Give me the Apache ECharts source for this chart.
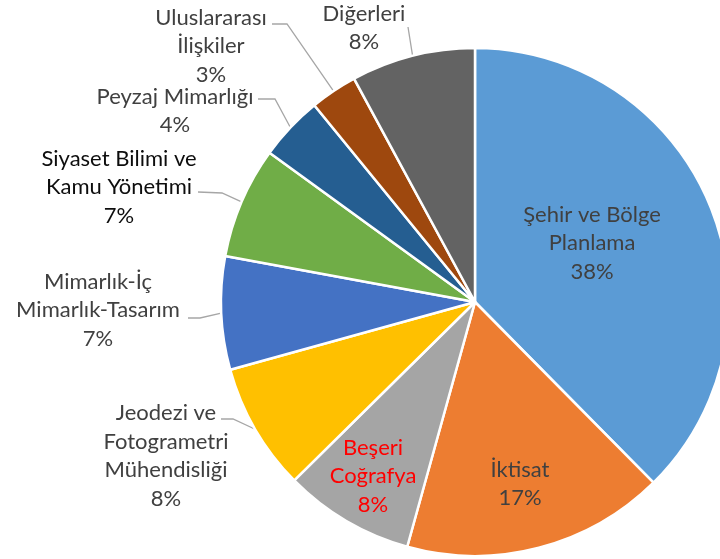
<!DOCTYPE html>
<html><head><meta charset="utf-8">
<script src="https://cdn.jsdelivr.net/npm/echarts@6/dist/echarts.min.js"></script>
<style>html,body{margin:0;padding:0;background:#fff}#c{width:720px;height:559px}</style>
</head><body><div id="c"></div>
<script>
// Data (percent of total)
const categories = [
  'Şehir ve Bölge\nPlanlama',
  'İktisat',
  'Beşeri\nCoğrafya',
  'Jeodezi ve\nFotogrametri\nMühendisliği',
  'Mimarlık-İç\nMimarlık-Tasarım',
  'Siyaset Bilimi ve\nKamu Yönetimi',
  'Peyzaj Mimarlığı',
  'Uluslararası\nİlişkiler',
  'Diğerleri'
];
const values = [37.6, 16.7, 8.3, 8.1, 7.2, 7.1, 4.1, 3.0, 7.9];

// Styles
const sliceColors = ['#5B9BD5', '#ED7D31', '#A5A5A5', '#FFC000', '#4472C4', '#70AD47', '#255E91', '#9E480E', '#636363'];
const textColors = ['#404040', '#404040', '#FF0000', '#404040', '#404040', '#0D0D0D', '#404040', '#404040', '#404040'];
const insideLabel = [true, true, true, false, false, false, false, false, false];

// Label placement: block centre (x,y), attach point on label (ax,ay), turn point (tx,ty)
const labelPlace = [
  { x: 592, y: 243 },
  { x: 520, y: 484 },
  { x: 373, y: 476 },
  { x: 166, y: 456, ax: 221, ay: 419, tx: 233, ty: 419 },
  { x: 98,  y: 310, ax: 188, ay: 318, tx: 200, ty: 318 },
  { x: 119, y: 187, ax: 198, ay: 192, tx: 222, ty: 193 },
  { x: 175, y: 111, ax: 258, ay: 99,  tx: 275, ty: 99 },
  { x: 211, y: 46,  ax: 272, ay: 24,  tx: 287, ty: 24 },
  { x: 364, y: 28,  ax: 408, ay: 27,  tx: 408, ty: 27 }
];

const chart = echarts.init(document.getElementById('c'), null, { renderer: 'canvas' });
const data = categories.map((name, i) => ({
  name: name,
  value: values[i],
  itemStyle: { color: sliceColors[i] },
  label: {
    position: insideLabel[i] ? 'inside' : 'outside',
    color: textColors[i]
  },
  labelLine: { show: !insideLabel[i] }
}));

chart.setOption({
  animation: false,
  backgroundColor: '#ffffff',
  series: [{
    type: 'pie',
    center: [475, 302],
    radius: 254,
    startAngle: 90,
    clockwise: true,
    avoidLabelOverlap: false,
    data: data,
    itemStyle: { borderColor: '#ffffff', borderWidth: 2.5 },
    label: {
      show: true,
      fontFamily: 'Lato',
      fontSize: 22,
      lineHeight: 28.5,
      align: 'center',
      formatter: p => p.name + '\n' + Math.round(p.percent) + '%'
    },
    labelLine: {
      show: true,
      length: 10,
      length2: 10,
      lineStyle: { color: '#A6A6A6', width: 1.3 }
    },
    emphasis: { disabled: true },
    labelLayout: function (params) {
      const lp = labelPlace[params.dataIndex];
      const res = { x: lp.x, y: lp.y, align: 'center', verticalAlign: 'middle' };
      if (lp.ax !== undefined && params.labelLinePoints) {
        const p0 = params.labelLinePoints[0];
        res.labelLinePoints = [[p0[0], p0[1]], [lp.tx, lp.ty], [lp.ax, lp.ay]];
      }
      return res;
    }
  }]
});
</script>
</body></html>
